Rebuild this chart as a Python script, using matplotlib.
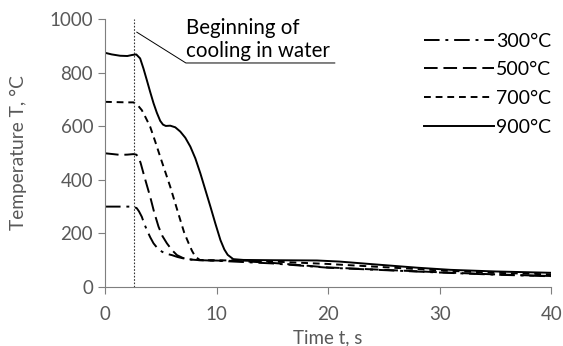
import matplotlib.pyplot as plt

plt.rcParams['font.family'] = ['Lato', 'DejaVu Sans']

# cooling curves, time in s and temperature in °C
t_300 = [0, 1.0, 2.2, 2.6, 2.85, 3.05, 3.3, 3.5, 3.75, 4.05, 4.35, 4.7, 5.1, 5.5, 6.0, 6.5,
         7.0, 8.0, 10, 15, 20, 25, 30, 35, 40]
T_300 = [300, 300, 300, 299, 294, 282, 262, 238, 213, 186, 163, 145, 132, 124, 119, 112,
         107, 101, 98, 88, 72, 63, 54, 46, 40]

t_500 = [0, 0.7, 1.35, 2.0, 2.55, 2.8, 3.0, 3.2, 3.45, 3.75, 4.05, 4.4, 4.8, 5.15, 5.55,
         6.0, 6.45, 7.0, 7.5, 8.5, 12, 15, 20, 25, 30, 35, 40]
T_500 = [499, 496, 493, 494, 496, 494, 486, 462, 424, 380, 337, 280, 225, 190, 163,
         138, 119, 108, 103, 100, 97, 90, 73, 64, 55, 47, 41]

t_700 = [0, 1.0, 2.0, 2.55, 2.9, 3.3, 3.65, 4.05, 4.5, 4.95, 5.4, 5.85, 6.3, 6.75,
         7.1, 7.5, 7.8, 8.1, 8.5, 9.0, 12, 15, 20, 25, 30, 35, 40]
T_700 = [691, 690, 689, 689, 680, 660, 632, 598, 543, 486, 430, 374, 312, 250,
         203, 163, 135, 113, 101, 100, 99, 95, 86, 74, 62, 53, 47]

t_900 = [0, 0.6, 1.35, 2.0, 2.45, 2.8, 3.15, 3.45, 3.75, 4.05, 4.35, 4.65, 4.95, 5.2,
         5.45, 5.85, 6.3, 6.75, 7.2, 7.65, 8.1, 8.55, 9.0, 9.45, 9.9, 10.35, 10.7,
         11.0, 11.5, 12.4, 15, 19, 21, 24, 28, 31, 35, 40]
T_900 = [874, 868, 863, 862, 866, 868, 853, 815, 772, 728, 686, 650, 620, 606,
         601, 602, 596, 580, 557, 524, 480, 424, 362, 300, 236, 175, 140,
         120, 104, 101, 100, 99, 95, 85, 72, 64, 58, 53]

labels = ['300°C', '500°C', '700°C', '900°C']
t_start = 2.6

fig = plt.figure(figsize=(5.63, 3.46), dpi=100)
ax = fig.add_axes([0.1865, 0.1705, 0.7925, 0.7745])

lw = 1.4
l1, = ax.plot(t_300, T_300, color='black', lw=lw, dashes=(8, 3, 1.5, 3))
l2, = ax.plot(t_500, T_500, color='black', lw=lw, dashes=(7, 3))
l3, = ax.plot(t_700, T_700, color='black', lw=lw, dashes=(3.5, 2.5))
l4, = ax.plot(t_900, T_900, color='black', lw=lw)

ax.axvline(t_start, color='#333333', lw=0.8, ls=(0, (1.5, 1.5)))

# pointer to the start of quenching
ax.plot([2.85, 7.25, 20.6], [951, 836, 836], color='black', lw=0.7)
ax.text(7.3, 842, 'Beginning of\ncooling in water', fontsize=14.8,
        ha='left', va='bottom', linespacing=1.2)

ax.set_xlim(0, 40)
ax.set_ylim(0, 1000)
ax.set_xticks(range(0, 41, 10))
ax.set_yticks(range(0, 1001, 200))

grey = '#7f7f7f'
for side in ['top', 'right']:
    ax.spines[side].set_visible(False)
for side in ['left', 'bottom']:
    ax.spines[side].set_color(grey)
ax.tick_params(colors=grey, labelcolor='#595959', labelsize=13.5, length=5)
ax.tick_params(axis='x', pad=9)
ax.set_xlabel('Time t, s', color='#595959', fontsize=13.5, labelpad=4)
ax.set_ylabel('Temperature T, °C', color='#595959', fontsize=13.8, labelpad=16)

ax.legend([l1, l2, l3, l4], labels, frameon=False, fontsize=14,
          loc='upper right', bbox_to_anchor=(1.04, 1.015),
          handlelength=3.6, handletextpad=0.1, labelspacing=0.6)

fig.savefig('out.png', dpi=100)
